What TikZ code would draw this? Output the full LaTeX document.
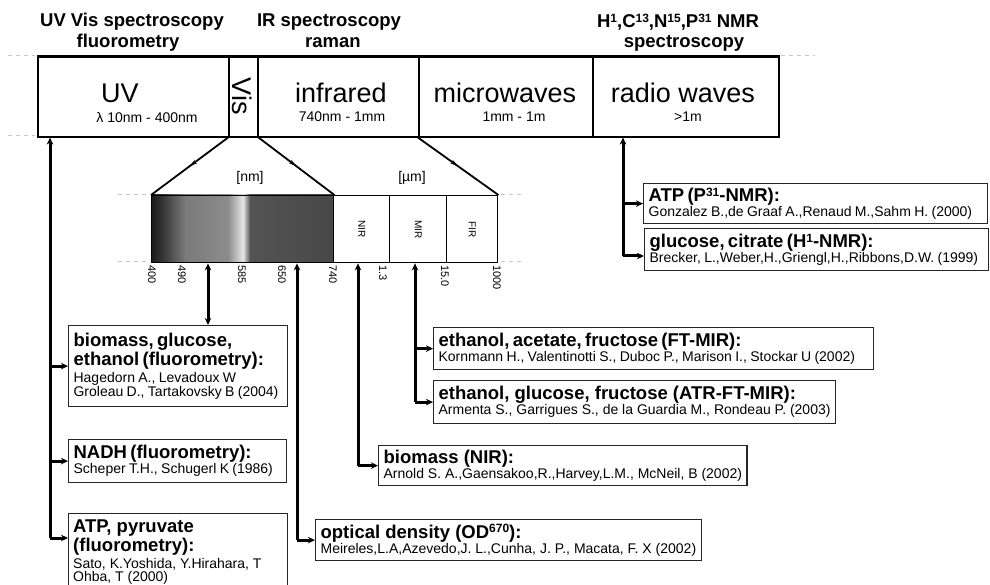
\documentclass[tikz,border=0pt]{standalone}
\usepackage{fontspec}
\setmainfont{Liberation Sans}
\usetikzlibrary{arrows.meta,decorations.markings,calc}
\newcommand{\boxttl}{\fontsize{18.5}{19.5}\selectfont\bfseries}
\newcommand{\boxcit}{\fontsize{14}{16.5}\selectfont\mdseries}
\newcommand{\supr}[1]{\raisebox{0.55ex}{\fontsize{12}{12}\selectfont #1}}
\tikzset{
  cell/.style={draw=black, line width=1.6pt, anchor=north west, minimum height=80pt, inner sep=0pt},
  bigtxt/.style={font=\fontsize{27}{28}\selectfont, inner sep=0pt},
  subtxt/.style={font=\fontsize{14}{15}\selectfont, inner sep=0pt},
  hdr/.style={font=\fontsize{18.5}{19}\selectfont\bfseries, inner sep=0pt},
  barcell/.style={draw=black, line width=1.4pt, anchor=north west, minimum height=67pt, inner sep=0pt},
  cellname/.style={rotate=-90, font=\fontsize{10}{11}\selectfont, inner sep=0pt},
  tick/.style={rotate=-90, anchor=west, font=\fontsize{11}{12}\selectfont, inner sep=0pt},
  rbox/.style={draw=black!85, line width=1.2pt, anchor=north west, align=left, inner xsep=5pt, inner ysep=2pt},
  lineL/.style={anchor=base west, inner sep=0pt},
  trunk/.style={line width=3pt},
  tip/.tip={Stealth[length=7pt,width=6.5pt]},
  diagl/.style={line width=1.8pt, postaction={decorate},
    decoration={markings, mark=at position 0.5 with {\arrow{Stealth[length=8pt,width=4pt]}}}},
  faint/.style={gray!45, line width=1pt, dash pattern=on 4pt off 4pt}
}
\begin{document}
\begin{tikzpicture}[x=1pt,y=-1pt]
\useasboundingbox (0,0) rectangle (990,585);
\fill[white] (0,0) rectangle (990,585);

% headers
\node[hdr] (h1) at (132,22) {UV Vis spectroscopy};
\node[hdr] (h1b) at (128,43) {fluorometry};
\node[hdr] (h2) at (329,22) {IR spectroscopy};
\node[hdr] (h2b) at (333,43) {raman};
\node[hdr] (h3) at (678,22) {H\supr{1},C\supr{13},N\supr{15},P\supr{31} NMR};
\node[hdr] (h3b) at (684,43) {spectroscopy};

% top band
\node[cell, minimum width=191pt] (uvc) at (37,56) {};
\node[cell, minimum width=29pt] (visc) at (228,56) {};
\node[cell, minimum width=161pt] (irc) at (257,56) {};
\node[cell, minimum width=174pt] (mwc) at (418,56) {};
\node[cell, minimum width=186pt] (rwc) at (592,56) {};
\draw[line width=2.4pt] (uvc.north west) -- (rwc.north east);

\node[bigtxt] (uvt) at (120,93) {UV};
\node[subtxt] (uvs) at (147,117) {λ 10nm - 400nm};
\node[bigtxt, rotate=-90] (vist) at (242.5,96) {Vis};
\node[bigtxt] (irt) at (341,93) {infrared};
\node[subtxt] (irs) at (342,117) {740nm - 1mm};
\node[bigtxt] (mwt) at (505,93) {microwaves};
\node[subtxt] (mws) at (514,117) {1mm - 1m};
\node[bigtxt] (rwt) at (683,93) {radio waves};
\node[subtxt] (rws) at (688,117) {>1m};

% faint marks
\draw[faint] (8,56) -- (35,56);
\draw[faint] (8,136) -- (35,136);
\draw[faint] (781,56) -- (815,56);
\draw[faint] (118,195) -- (148,195);
\draw[faint] (118,262) -- (148,262);
\draw[faint] (501,195) -- (522,195);
\draw[faint] (501,262) -- (522,262);

% spectrum bar
\shade[left color=black!90, right color=black!82] (151,195) rectangle (160,262);
\shade[left color=black!82, right color=black!52] (160,195) rectangle (185,262);
\shade[left color=black!52, right color=black!45] (185,195) rectangle (228,262);
\shade[left color=black!45, right color=black!10] (228,195) rectangle (243,262);
\shade[left color=black!10, right color=black!65] (243,195) rectangle (250,262);
\shade[left color=black!67, right color=black!72] (250,195) rectangle (333,262);
\node[barcell, minimum width=182pt] (spec) at (151,195) {};
\node[barcell, minimum width=56pt] (nirc) at (333,195) {};
\node[barcell, minimum width=57pt] (mirc) at (389,195) {};
\node[barcell, minimum width=51pt] (firc) at (446,195) {};
\node[cellname] (nirt) at (nirc.center) {NIR};
\node[cellname] (mirt) at (mirc.center) {MIR};
\node[cellname] (firt) at (firc.center) {FIR};

\node[subtxt] (nm) at (250,178) {[nm]};
\node[subtxt] (um) at (412,178) {[µm]};

\draw[diagl] (visc.south west) -- (spec.north west);
\draw[diagl] (visc.south east) -- (spec.north east);
\draw[diagl] (mwc.south west) -- (firc.north east);

% ticks
\node[tick] (t1) at (152,265) {400};
\node[tick] (t2) at (182,265) {490};
\node[tick] (t3) at (242,265) {585};
\node[tick] (t4) at (282,265) {650};
\node[tick] (t5) at (333,265) {740};
\node[tick] (t6) at (383,265) {1.3};
\node[tick] (t7) at (445,265) {15.0};
\node[tick] (t8) at (497,265) {1000};

% boxes
\node[rbox, text width=209pt, minimum height=81pt] (bio) at (68,325)
  {\boxttl biomass, glucose,\\ \boxttl ethanol (fluorometry):\\ \boxcit Hagedorn A., Levadoux W\\ \boxcit Groleau D., Tartakovsky B (2004)};
\node[rbox, text width=208pt, minimum height=43pt] (nadh) at (68,439)
  {\boxttl NADH (fluorometry):\\ \boxcit Scheper T.H., Schugerl K (1986)};
\node[rbox, minimum width=219pt, minimum height=80pt, inner sep=0pt] (atp) at (68,513) {};
\node[lineL] (atp1) at ($(atp.north west)+(5,19)$) {\boxttl ATP, pyruvate};
\node[lineL] (atp2) at ($(atp.north west)+(5,38)$) {\boxttl (fluorometry):};
\node[lineL] (atp3) at ($(atp.north west)+(5,55)$) {\boxcit Sato, K.Yoshida, Y.Hirahara, T};
\node[lineL] (atp4) at ($(atp.north west)+(5,68.5)$) {\boxcit Ohba, T (2000)};
\node[rbox, text width=334pt, minimum height=40pt] (nmr1) at (643,183)
  {\boxttl ATP (P\supr{31}-NMR):\\ \boxcit Gonzalez B.,de Graaf A.,Renaud M.,Sahm H. (2000)};
\node[rbox, text width=334pt, minimum height=42pt] (nmr2) at (644,228)
  {\boxttl glucose, citrate (H\supr{1}-NMR):\\ \boxcit Brecker, L.,Weber,H.,Griengl,H.,Ribbons,D.W. (1999)};
\node[rbox, text width=430pt, minimum height=42pt] (ftmir) at (433,327)
  {\boxttl ethanol, acetate, fructose (FT-MIR):\\ \boxcit Kornmann H., Valentinotti S., Duboc P., Marison I., Stockar U (2002)};
\node[rbox, minimum height=43pt] (atr) at (433,380)
  {\boxttl ethanol, glucose, fructose (ATR-FT-MIR):\\ \boxcit Armenta S., Garrigues S., de la Guardia M., Rondeau P. (2003)};
\node[rbox, minimum height=40pt] (nir) at (378,445)
  {\boxttl biomass (NIR):\\ \boxcit Arnold S. A.,Gaensakoo,R.,Harvey,L.M., McNeil, B (2002)};
\node[rbox, minimum height=41pt] (od) at (315,519)
  {\boxttl optical density (OD\supr{670}):\\ \boxcit Meireles,L.A,Azevedo,J. L.,Cunha, J. P., Macata, F. X (2002)};

% UV trunk
\coordinate (uvTop) at ($(uvc.south west)+(13,0)$);
\coordinate (uvBot) at (uvTop |- 0,538);
\draw[trunk, -tip] (uvBot) -- (uvTop);
\draw[trunk, -tip] (uvTop |- bio.west) -- (bio.west);
\draw[trunk, -tip] (uvTop |- nadh.west) -- (nadh.west);
\draw[trunk, -tip] (uvBot) -- (uvBot -| atp.west);

% radio trunk
\coordinate (rwTop) at ($(rwc.south west)+(31,0)$);
\coordinate (rwBot) at (rwTop |- 0,256);
\draw[trunk, -tip] (rwBot) -- (rwTop);
\draw[trunk, -tip] (rwTop |- nmr1.west) -- (nmr1.west);
\draw[trunk, -tip] (rwBot) -- (rwBot -| nmr2.west);

% bar arrows
\coordinate (aBio) at ($(spec.south west)+(57,0)$);
\coordinate (aOD) at ($(spec.south west)+(146,0)$);
\coordinate (aNIR) at ($(nirc.south west)+(25,0)$);
\coordinate (aMIR) at ($(mirc.south west)+(26,0)$);
\draw[trunk, tip-tip] (aBio) -- (aBio |- bio.north);
\coordinate (odB) at (aOD |- od.west);
\draw[trunk, -tip] (odB) -- (aOD);
\draw[trunk, -tip] (odB) -- (od.west);
\coordinate (nirB) at (aNIR |- nir.west);
\draw[trunk, -tip] (nirB) -- (aNIR);
\draw[trunk, -tip] (nirB) -- (nir.west);
\coordinate (mirB) at (aMIR |- atr.west);
\draw[trunk, -tip] (mirB) -- (aMIR);
\draw[trunk, -tip] (mirB) -- (atr.west);
\draw[trunk, -tip] (aMIR |- ftmir.west) -- (ftmir.west);
\end{tikzpicture}
\end{document}
